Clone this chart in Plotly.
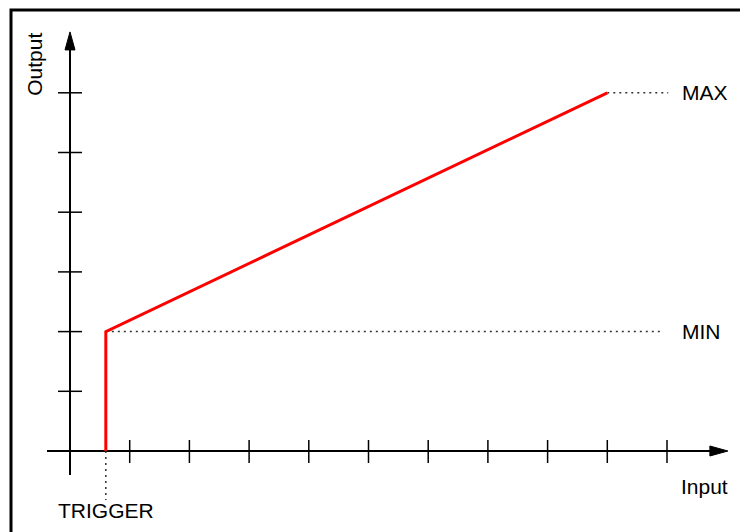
import plotly.graph_objects as go

# ---- data (in axis units: one unit = one tick step) ----
x_ticks = [1, 2, 3, 4, 5, 6, 7, 8, 9, 10]
y_ticks = [1, 2, 3, 4, 5, 6]
trigger_in = 0.6
min_out = 2
max_out = 6
max_in = 9
curve_x = [trigger_in, trigger_in, max_in]
curve_y = [0, min_out, max_out]
labels = {"trigger": "TRIGGER", "min": "MIN", "max": "MAX", "xaxis": "Input", "yaxis": "Output"}

# ---- styling / layout constants ----
W, H = 740, 532
U = 59.7            # pixels per unit
OX, OY = 70, 451    # origin pixel position
x_range = [-OX / U, (W - OX) / U]
y_range = [(OY - H) / U, OY / U]

FONT = "Liberation Sans, Arial, sans-serif"

fig = go.Figure()

def seg_trace(xs, ys, color="black", width=2, dash="solid"):
    fig.add_trace(go.Scatter(x=xs, y=ys, mode="lines", hoverinfo="skip",
                             line=dict(color=color, width=width, dash=dash),
                             showlegend=False))

# axes lines
seg_trace([-23 / U, 10.8], [0, 0], width=2)
seg_trace([0, 0], [-24 / U, 6.8], width=2)

# arrowheads (filled triangles)
ah_len, ah_half = 18 / U, 5 / U
x_tip = 11.02
y_tip = 7.02
fig.add_trace(go.Scatter(x=[x_tip, x_tip - ah_len, x_tip - ah_len, x_tip],
                         y=[0, ah_half, -ah_half, 0], mode="lines", fill="toself",
                         fillcolor="black", line=dict(color="black", width=1),
                         hoverinfo="skip", showlegend=False))
fig.add_trace(go.Scatter(x=[0, ah_half, -ah_half, 0],
                         y=[y_tip, y_tip - ah_len, y_tip - ah_len, y_tip], mode="lines", fill="toself",
                         fillcolor="black", line=dict(color="black", width=1),
                         hoverinfo="skip", showlegend=False))

# ticks
tx, ty = [], []
for t in x_ticks:
    tx += [t, t, None]
    ty += [-12 / U, 11 / U, None]
seg_trace(tx, ty, width=1.5)
tx, ty = [], []
for t in y_ticks:
    tx += [-12 / U, 12 / U, None]
    ty += [t, t, None]
seg_trace(tx, ty, width=1.5)

# dotted guides
DOT = "2px,4px"
seg_trace([max_in, 10.02], [max_out, max_out], color="#333", width=1.5, dash=DOT)
seg_trace([trigger_in, 9.93], [min_out, min_out], color="#333", width=1.5, dash=DOT)
seg_trace([trigger_in, trigger_in], [0, -0.82], color="#333", width=1.5, dash=DOT)

# red response curve
seg_trace(curve_x, curve_y, color="#ff0000", width=3)

# text labels
ann = [
    dict(x=10.22, y=max_out, text=labels["max"], xanchor="left", yanchor="middle"),
    dict(x=10.22, y=min_out, text=labels["min"], xanchor="left", yanchor="middle"),
    dict(x=trigger_in, y=-0.99, text=labels["trigger"], xanchor="center", yanchor="middle"),
    dict(x=10.62, y=-0.60, text=labels["xaxis"], xanchor="center", yanchor="middle"),
    dict(x=-0.586, y=6.47, text=labels["yaxis"], xanchor="center", yanchor="middle", textangle=-90),
]
for a in ann:
    fig.add_annotation(showarrow=False, font=dict(family=FONT, size=21, color="black"), **a)

# outer frame
fig.add_shape(type="rect", xref="paper", yref="paper",
              x0=11 / W, x1=1.05, y0=-0.05, y1=1 - 10 / H,
              line=dict(color="black", width=3), fillcolor="rgba(0,0,0,0)", layer="above")

fig.update_layout(
    width=W, height=H,
    margin=dict(l=0, r=0, t=0, b=0),
    plot_bgcolor="white", paper_bgcolor="white",
    xaxis=dict(range=x_range, visible=False, fixedrange=True),
    yaxis=dict(range=y_range, visible=False, fixedrange=True),
    showlegend=False,
)

fig.write_html("out.html", config={"displayModeBar": False},
               post_script="document.body.style.margin='0';document.body.style.overflow='hidden';")
